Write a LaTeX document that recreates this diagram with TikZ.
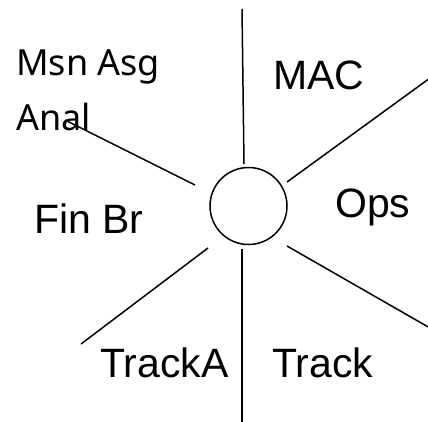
\documentclass[tikz,border=0pt]{standalone}
\usepackage{fontspec}
\setmainfont{Liberation Sans}
\newfontfamily\segoefont{Noto Sans}
\begin{document}
\begin{tikzpicture}[x=1pt,y=-1pt,
  lbl/.style={anchor=base west, inner sep=0pt, font=\fontsize{41}{41}\selectfont},
  lbltwo/.style={anchor=base west, inner sep=0pt, font=\segoefont\fontsize{36}{36}\selectfont},
  spoke/.style={line width=1.5pt, draw=black},
  hubstyle/.style={circle, draw=black, line width=1.5pt, minimum size=77pt, inner sep=0pt}]
\useasboundingbox (0,0) rectangle (428,421);
\node[hubstyle] (hub) at (248.5,206) {};
% labels
\node[lbltwo] (msn) at (16,75) {Msn Asg};
\node[lbltwo] (anal) at (16,130) {Anal};
\node[lbl] (mac) at (273,89) {MAC};
\node[lbl] (ops) at (335,217) {Ops};
\node[lbl] (fin) at (34,233) {Fin Br};
\node[lbl] (tracka) at (100,377) {TrackA};
\node[lbl] (track) at (272,377) {Track};
% spoke ends
\coordinate (t1) at (242,9);     \coordinate (t0) at (244,164);
\coordinate (ur1) at (430,78);   \coordinate (ur0) at (287,182);
\coordinate (lr1) at (430,328);  \coordinate (lr0) at (287,246);
\coordinate (b1) at (242,423);   \coordinate (b0) at (242,249);
\coordinate (ll1) at (81,344);   \coordinate (ll0) at (208,248);
\coordinate (ul1) at (65,120);   \coordinate (ul0) at (195,185);
\draw[spoke] (t0) -- (t1);
\draw[spoke] (ur0) -- (ur1);
\draw[spoke] (lr0) -- (lr1);
\draw[spoke] (b0) -- (b1);
\draw[spoke] (ll0) -- (ll1);
\draw[spoke] (ul0) -- (ul1);
\end{tikzpicture}
\end{document}
